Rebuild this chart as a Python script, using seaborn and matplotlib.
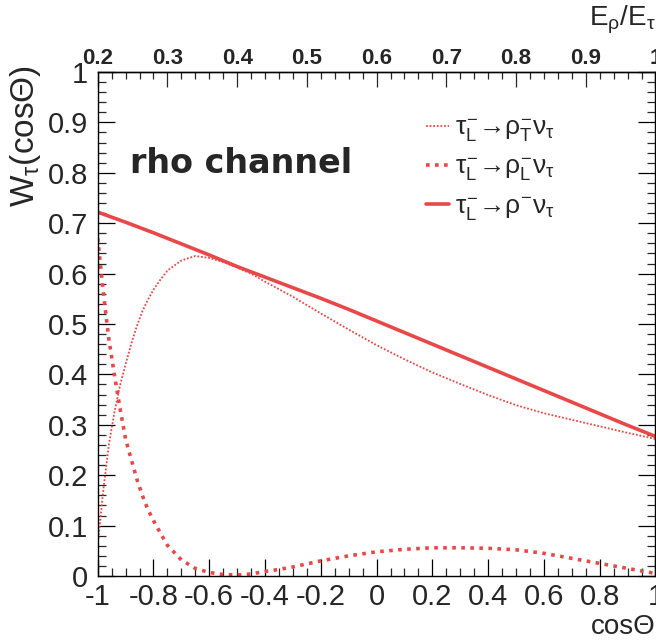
import matplotlib
matplotlib.use("Agg")
import matplotlib.pyplot as plt
import seaborn as sns
import pandas as pd
from matplotlib.ticker import MultipleLocator

# ---------------- data ----------------
cos_total = [-1.0, -0.9, -0.8, -0.7, -0.6, -0.5, -0.4, -0.3, -0.2, -0.1, 0.0,
             0.1, 0.2, 0.3, 0.4, 0.5, 0.6, 0.7, 0.8, 0.9, 1.0]
w_total = [0.722, 0.702, 0.681, 0.659, 0.637, 0.614, 0.593, 0.572, 0.551, 0.529, 0.506,
           0.483, 0.460, 0.437, 0.414, 0.391, 0.368, 0.345, 0.322, 0.299, 0.277]

cos_pol = [-1.0, -0.98, -0.96, -0.94, -0.92, -0.90, -0.88, -0.86, -0.84, -0.82, -0.80,
           -0.775, -0.75, -0.70, -0.65, -0.60, -0.55, -0.50, -0.45, -0.40, -0.35, -0.30,
           -0.20, -0.10, 0.0, 0.1, 0.2, 0.3, 0.4, 0.5, 0.6, 0.7, 0.8, 0.9, 1.0]
w_trans = [0.06, 0.17, 0.26, 0.325, 0.378, 0.42, 0.46, 0.495, 0.525, 0.548, 0.568,
           0.588, 0.606, 0.626, 0.635, 0.631, 0.623, 0.612, 0.600, 0.584, 0.569, 0.554,
           0.521, 0.489, 0.458, 0.430, 0.404, 0.381, 0.359, 0.339, 0.323, 0.310, 0.297, 0.284, 0.272]
w_long = [0.67, 0.564, 0.47, 0.399, 0.333, 0.272, 0.232, 0.193, 0.160, 0.132, 0.110,
          0.085, 0.061, 0.032, 0.015, 0.007, 0.003, 0.002, 0.004, 0.009, 0.013, 0.018,
          0.030, 0.040, 0.048, 0.053, 0.056, 0.056, 0.055, 0.052, 0.045, 0.035, 0.025, 0.015, 0.005]

x_ticks = [-1.0, -0.8, -0.6, -0.4, -0.2, 0.0, 0.2, 0.4, 0.6, 0.8, 1.0]
x_tick_labels = ["-1", "-0.8", "-0.6", "-0.4", "-0.2", "0", "0.2", "0.4", "0.6", "0.8", "1"]
y_ticks = [0.0, 0.1, 0.2, 0.3, 0.4, 0.5, 0.6, 0.7, 0.8, 0.9, 1.0]
y_tick_labels = ["0", "0.1", "0.2", "0.3", "0.4", "0.5", "0.6", "0.7", "0.8", "0.9", "1"]
e_ticks = [0.2, 0.3, 0.4, 0.5, 0.6, 0.7, 0.8, 0.9, 1.0]
e_tick_labels = ["0.2", "0.3", "0.4", "0.5", "0.6", "0.7", "0.8", "0.9", "1"]

labels = ["$\\tau^{-}_{L}→\\rho^{-}_{T}\\nu_{\\tau}$",
          "$\\tau^{-}_{L}→\\rho^{-}_{L}\\nu_{\\tau}$",
          "$\\tau^{-}_{L}→\\rho^{-}\\nu_{\\tau}$"]

RED = "#e84848"

# ---------------- style ----------------
sns.set_style("ticks")
plt.rcParams["font.family"] = ["Liberation Sans", "DejaVu Sans"]
plt.rcParams["mathtext.fontset"] = "custom"
plt.rcParams["mathtext.rm"] = "Liberation Sans"
plt.rcParams["mathtext.it"] = "Liberation Sans"
plt.rcParams["mathtext.bf"] = "Liberation Sans:bold"
plt.rcParams["axes.unicode_minus"] = False

fig = plt.figure(figsize=(6.56, 6.43), dpi=100)
ax = fig.add_axes([0.1489, 0.1042, 0.8503, 0.7838])

df_pol = pd.DataFrame({"cos": cos_pol, "T": w_trans, "L": w_long})
df_tot = pd.DataFrame({"cos": cos_total, "W": w_total})

sns.lineplot(data=df_pol, x="cos", y="T", ax=ax, color=RED, lw=1.3,
             linestyle=(0, (1, 1)), label=labels[0])
sns.lineplot(data=df_pol, x="cos", y="L", ax=ax, color=RED, lw=2.6,
             linestyle=(0, (1, 1.5)), label=labels[1])
sns.lineplot(data=df_tot, x="cos", y="W", ax=ax, color=RED, lw=2.6,
             linestyle="-", label=labels[2])

ax.set_xlim(-1, 1)
ax.set_ylim(0, 1)
ax.set_xticks(x_ticks, labels=x_tick_labels)
ax.set_yticks(y_ticks, labels=y_tick_labels)
ax.xaxis.set_minor_locator(MultipleLocator(0.05))
ax.yaxis.set_minor_locator(MultipleLocator(0.02))
ax.tick_params(which="major", direction="in", length=12, width=0.9, labelsize=21,
               color="black")
ax.tick_params(which="minor", direction="in", length=6, width=0.9)
ax.tick_params(axis="x", which="both", top=False, bottom=True, pad=5)
ax.tick_params(axis="y", which="both", left=True, right=True, pad=7)
for sp in ax.spines.values():
    sp.set_visible(True)
    sp.set_linewidth(1.0)
    sp.set_color("black")

# axis titles
ax.set_ylabel(r"$\mathregular{W_{\tau}(cos\Theta)}$", fontsize=24, loc="top")
ax.yaxis.set_label_coords(-(98 - 43) / 557.8, 1.0 + 7 / 504)
ax.set_xlabel("cosΘ", fontsize=20, loc="right")
ax.xaxis.set_label_coords(1.0, -(614 - 576) / 504)

# top axis: E_rho / E_tau
sec = ax.secondary_xaxis("top", functions=(lambda c: 0.6 + 0.4 * c,
                                           lambda e: (e - 0.6) / 0.4))
sec.set_xticks(e_ticks, labels=e_tick_labels)
sec.xaxis.set_minor_locator(MultipleLocator(0.02))
sec.tick_params(which="major", direction="in", length=11, width=0.9, labelsize=16, pad=2)
sec.tick_params(which="minor", direction="in", length=5, width=0.9)
for t in sec.get_xticklabels():
    t.set_fontweight("bold")
sec.spines["top"].set_linewidth(1.0)
ax.text(1.0, 1.0 + (72 - 4) / 504, r"$\mathregular{E_{\rho}/E_{\tau}}$",
        transform=ax.transAxes, fontsize=20, ha="right", va="top", clip_on=False)

# annotation
ax.text(0.058, 0.819, "rho channel", transform=ax.transAxes, fontsize=24,
        fontweight="bold", family=["DejaVu Sans"], va="center", ha="left")

leg = ax.legend(loc="upper left", bbox_to_anchor=(0.589, 0.912), frameon=False,
                fontsize=19, handlelength=0.85, handletextpad=0.25, labelspacing=0.42,
                borderpad=0, borderaxespad=0)

fig.savefig("out.png", dpi=100)
